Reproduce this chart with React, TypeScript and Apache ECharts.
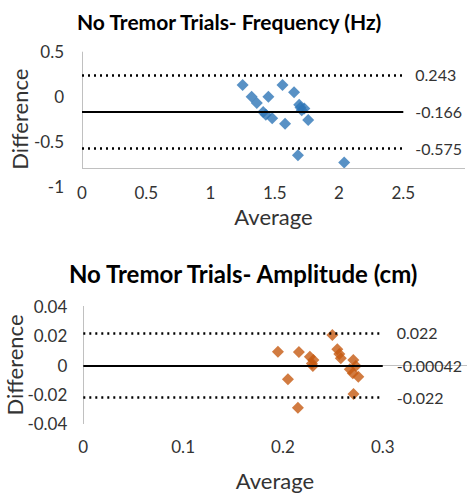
import React, { useEffect, useRef } from "react";
import * as echarts from "echarts";

// Frequency (Hz): Bland-Altman points
const freqAvg = [1.25, 1.32, 1.36, 1.45, 1.41, 1.43, 1.48, 1.56, 1.58, 1.65, 1.69, 1.70, 1.71, 1.73, 1.76, 1.68, 2.04];
const freqDiff = [0.13, 0.0, -0.07, 0.0, -0.17, -0.2, -0.24, 0.13, -0.30, 0.05, -0.09, -0.12, -0.15, -0.13, -0.26, -0.65, -0.73];
const freqLimits = [0.243, -0.166, -0.575];
const freqLimitLabels = ["0.243", "-0.166", "-0.575"];

// Amplitude (cm): Bland-Altman points
const ampAvg = [0.195, 0.216, 0.205, 0.215, 0.227, 0.2305, 0.229, 0.23, 0.2495, 0.2545, 0.2565, 0.258, 0.2705, 0.267, 0.273, 0.27, 0.2755, 0.2707];
const ampDiff = [0.0091, 0.0089, -0.0098, -0.0291, 0.0057, 0.0034, 0.0011, -0.0007, 0.0205, 0.0107, 0.0075, 0.0046, 0.0034, -0.0029, -0.0007, -0.0057, -0.008, -0.0198];
const ampLimits = [0.022, -0.00042, -0.022];
const ampLimitLabels = ["0.022", "-0.00042", "-0.022"];

const FONT = "Lato";
const TXT = "#333333";
const AX = "#c0c0c0";

function limitLines(vals: number[], labels: string[], xEnd: number, dist: number) {
  return vals.map((v, i) => [
    {
      coord: [0, v],
      lineStyle: i === 1
        ? { type: "solid", width: 2, color: "#000" }
        : { type: [2, 4], width: 2.5, color: "#000" },
      label: { show: true, formatter: labels[i], position: "end", distance: dist, fontSize: 16, color: TXT, fontFamily: FONT },
    },
    { coord: [xEnd, v] },
  ]);
}

export default function App() {
  const ref = useRef<HTMLDivElement>(null);
  useEffect(() => {
    const chart = echarts.init(ref.current!, null, { renderer: "svg" });
    const axisLineItem = (a: number[], b: number[]) => [
      { coord: a, lineStyle: { type: "solid", width: 1, color: AX }, label: { show: false } },
      { coord: b },
    ];
    chart.setOption({
      animation: false,
      backgroundColor: "#fff",
      textStyle: { fontFamily: FONT },
      title: [
        { text: "No Tremor Trials- Frequency (Hz)", left: 72, top: 6, textStyle: { fontSize: 21, fontWeight: "bold", color: "#000", fontFamily: FONT } },
        { text: "No Tremor Trials- Amplitude (cm)", left: 64, top: 256, textStyle: { fontSize: 24, fontWeight: "bold", color: "#000", fontFamily: FONT } },
      ],
      grid: [
        { left: 82, top: 51.7, width: 383, height: 135, outerBoundsMode: "none", containLabel: false },
        { left: 83.3, top: 306.4, width: 383.3, height: 117.2, outerBoundsMode: "none", containLabel: false },
      ],
      xAxis: [
        {
          type: "value", gridIndex: 0, min: 0, max: 2.98, interval: 0.5,
          axisLine: { show: false }, axisTick: { show: false }, splitLine: { show: false },
          axisLabel: { fontSize: 17, color: TXT, margin: -3, fontFamily: FONT, formatter: (v: number) => (v > 2.5001 ? "" : String(Number(v.toFixed(2)))) },
          name: "Average", nameLocation: "middle", nameGap: 19, nameMoveOverlap: false,
          nameTextStyle: { fontSize: 22, color: TXT, fontFamily: FONT },
        },
        {
          type: "value", gridIndex: 1, min: 0, max: 0.384, interval: 0.1,
          axisLine: { show: true, lineStyle: { color: AX, width: 1 } }, axisTick: { show: false }, splitLine: { show: false },
          axisLabel: { fontSize: 17, color: TXT, margin: 14, fontFamily: FONT, formatter: (v: number) => (v > 0.3001 ? "" : String(Number(v.toFixed(2)))) },
          name: "Average", nameLocation: "middle", nameGap: 46, nameMoveOverlap: false,
          nameTextStyle: { fontSize: 22, color: TXT, fontFamily: FONT },
        },
      ],
      yAxis: [
        {
          type: "value", gridIndex: 0, min: -1, max: 0.5, interval: 0.5,
          axisLine: { show: false }, axisTick: { show: false }, splitLine: { show: false },
          axisLabel: { fontSize: 17, color: TXT, margin: 18, fontFamily: FONT },
          name: "Difference", nameLocation: "middle", nameGap: 52, nameRotate: 90, nameMoveOverlap: false,
          nameTextStyle: { fontSize: 22, color: TXT, fontFamily: FONT },
        },
        {
          type: "value", gridIndex: 1, min: -0.04, max: 0.04, interval: 0.02,
          axisLine: { show: true, lineStyle: { color: AX, width: 1 } }, axisTick: { show: false }, splitLine: { show: false },
          axisLabel: { fontSize: 17, color: TXT, margin: 16, fontFamily: FONT, formatter: (v: number) => String(Number(v.toFixed(3))) },
          name: "Difference", nameLocation: "middle", nameGap: 58, nameRotate: 90, nameMoveOverlap: false,
          nameTextStyle: { fontSize: 22, color: TXT, fontFamily: FONT },
        },
      ],
      series: [
        {
          type: "scatter", xAxisIndex: 0, yAxisIndex: 0, clip: false,
          symbol: "diamond", symbolSize: 12,
          itemStyle: { color: "#2E75B6" },
          data: freqAvg.map((x, i) => [x, freqDiff[i]]),
          z: 3,
          markLine: {
            silent: true, symbol: "none", animation: false,
            data: [
              axisLineItem([0, 0.5], [0, -0.8]),
              axisLineItem([0, -0.8], [2.98, -0.8]),
              ...limitLines(freqLimits, freqLimitLabels, 2.5, 12),
            ],
          },
        },
        {
          type: "scatter", xAxisIndex: 1, yAxisIndex: 1, clip: false,
          symbol: "diamond", symbolSize: 12,
          itemStyle: { color: "#C55A11" },
          data: ampAvg.map((x, i) => [x, ampDiff[i]]),
          z: 3,
          markLine: {
            silent: true, symbol: "none", animation: false,
            data: limitLines(ampLimits, ampLimitLabels, 0.3, 14),
          },
        },
      ],
    });
    return () => chart.dispose();
  }, []);
  return <div ref={ref} style={{ position: "absolute", left: 0, top: 0, width: 467, height: 495 }} />;
}
